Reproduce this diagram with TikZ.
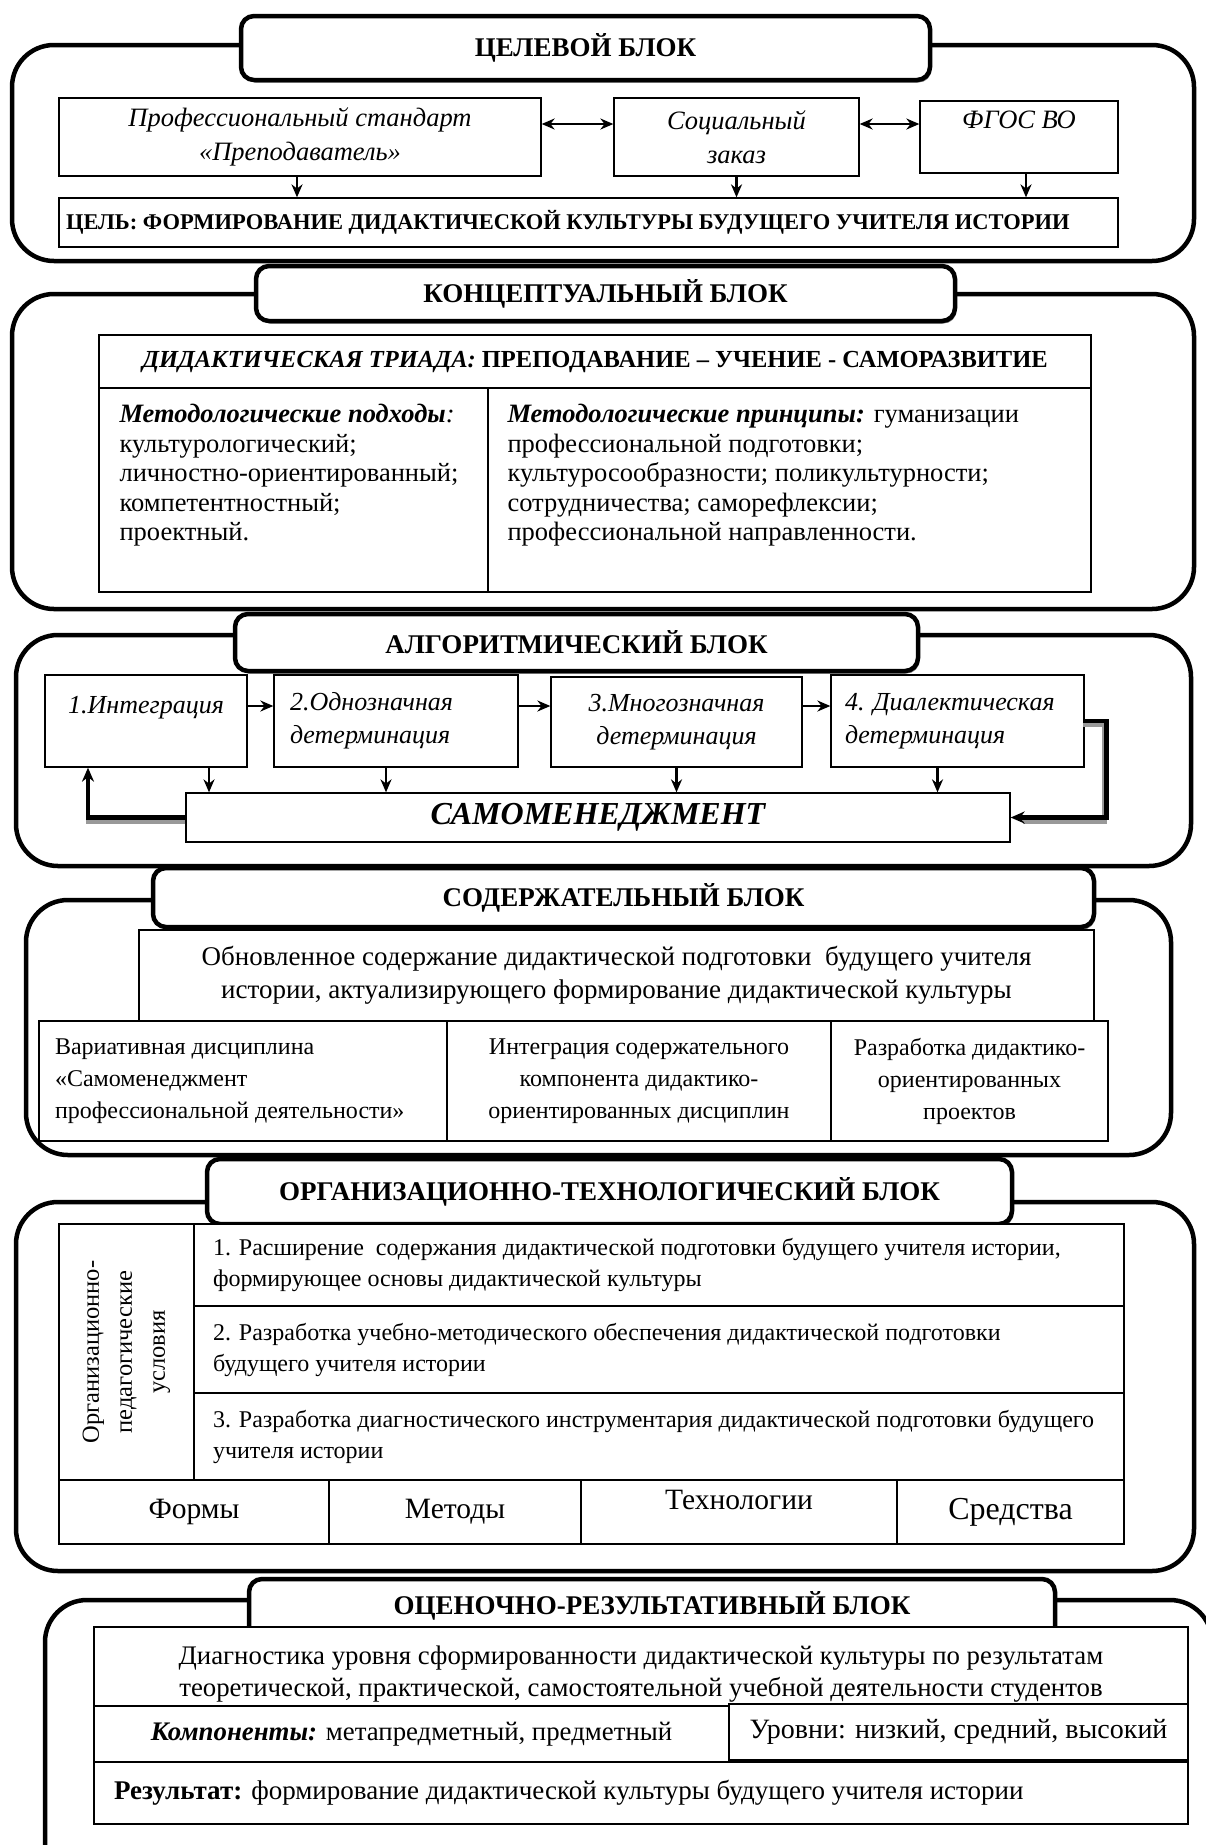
\documentclass[tikz,border=0pt]{standalone}
\usepackage{fontspec}
\setmainfont{Liberation Serif}
\usetikzlibrary{arrows.meta,shadows}
\newcommand{\fsz}[2]{\fontsize{#1}{#2}\selectfont}

\begin{document}
\begin{tikzpicture}[x=1pt,y=-1pt,
					outer/.style={draw, line width=4.5pt, rounded corners=42pt, inner sep=0pt},
					tab/.style={draw, line width=4.5pt, rounded corners=13pt, fill=white, inner sep=0pt,
						drop shadow={shadow xshift=1.5pt, shadow yshift=-2.5pt, fill=black!55, opacity=1},
						font=\bfseries\fsz{27}{31}},
					box/.style={draw, line width=1.3pt, fill=white, inner sep=0pt, align=center, font=\fsz{25}{30}},
					lbox/.style={box, align=left, execute at begin node={\spaceskip=0pt\xspaceskip=0pt\relax}},
					txt/.style={inner sep=0pt, align=left, anchor=north west, font=\fsz{26.5}{29.4}},
					arr/.style={line width=2.6pt, -{Stealth[length=13pt,width=11pt]}},
					darr/.style={line width=2.6pt, {Stealth[length=13pt,width=11pt]}-{Stealth[length=13pt,width=11pt]}},
					back/.style={line width=4.5pt, -{Stealth[length=14pt,width=12pt]}},
					backshadow/.style={line width=4.5pt, black!40}]
    \useasboundingbox (0,0) rectangle (1206,1845);

    % ЦЕЛЕВОЙ БЛОК
    \node [outer, minimum width=1182, minimum height=216] (out1) at (603,153){};
    \node [tab, minimum width=689, minimum height=64] (tab1) at (585.5,48){ЦЕЛЕВОЙ БЛОК};
    \node [box, minimum width=482, minimum height=78, font=\itshape\fsz{26.5}{34}] (prof) at (300,137){Профессиональный стандарт\\«Преподаватель»};
    \node [box, minimum width=245, minimum height=78, font=\itshape\fsz{26.5}{34}] (soc) at (736.5,137){Социальный\\заказ};
    \node [box, minimum width=198, minimum height=72, font=\itshape\fsz{26.5}{34}] (fgos) at (1019,137){ФГОС ВО\\~};
    \node [lbox, minimum width=1059, minimum height=49, text width=1045, font=\bfseries\fsz{22.5}{27}] (goal) at (588.5,222.5){ЦЕЛЬ: ФОРМИРОВАНИЕ ДИДАКТИЧЕСКОЙ КУЛЬТУРЫ БУДУЩЕГО УЧИТЕЛЯ ИСТОРИИ};
    \draw[darr] ([yshift=13]prof.east) -- ([yshift=13]prof.east -| soc.west);
    \draw[darr] ([yshift=13]soc.east) -- ([yshift=13]soc.east -| fgos.west);
    \draw[arr] ([xshift=-3]prof.south) -- ([xshift=-3]prof.south |- goal.north);
    \draw[arr] (soc.south) -- (soc.south |- goal.north);
    \draw[arr] ([xshift=7]fgos.south) -- ([xshift=7]fgos.south |- goal.north);

    % КОНЦЕПТУАЛЬНЫЙ БЛОК
    \node [outer, minimum width=1182, minimum height=315] (out2) at (603,451.5){};
    \node [tab, minimum width=699, minimum height=55] (tab2) at (605.5,293.5){КОНЦЕПТУАЛЬНЫЙ БЛОК};
    \node [box, minimum width=992, minimum height=53, font=\bfseries\fsz{24.5}{30}] (triad) at (595,361.5){\textit{ДИДАКТИЧЕСКАЯ ТРИАДА:} ПРЕПОДАВАНИЕ – УЧЕНИЕ - САМОРАЗВИТИЕ};
    \node [box, minimum width=389, minimum height=204] (appr) at (293.5,490){};
    \node [box, minimum width=603, minimum height=204] (princ) at (789.5,490){};
    \node [txt] (apprtext) at ([xshift=21,yshift=-17]appr.north west){\textbf{\textit{Методологические подходы}}\textit{:}\\
    	культурологический;\\
    	личностно-ориентированный;\\
    	компетентностный;\\
    	проектный.};
    \node [txt] (princtext) at ([xshift=20,yshift=-17]princ.north west){\textbf{\textit{Методологические принципы:}} гуманизации\\
    	профессиональной подготовки;\\
    	культуросообразности; поликультурности;\\
    	сотрудничества; саморефлексии;\\
    	профессиональной направленности.};

    % АЛГОРИТМИЧЕСКИЙ БЛОК
    \node [outer, minimum width=1175, minimum height=231] (out3) at (603.5,750.5){};
    \node [tab, minimum width=683, minimum height=57] (tab3) at (576.5,642.5){АЛГОРИТМИЧЕСКИЙ БЛОК};
    \node [box, minimum width=202, minimum height=92, font=\itshape\fsz{26}{33}] (s1) at (146,721){1.Интеграция\\~};
    \node [lbox, minimum width=244, minimum height=92, text width=212, font=\itshape\fsz{26}{33}] (s2) at (396,721){2.Однозначная\\детерминация};
    \node [box, minimum width=251, minimum height=90, font=\itshape\fsz{26}{33}] (s3) at (676.5,722){3.Многозначная\\детерминация};
    \node [lbox, minimum width=253, minimum height=92, text width=225, font=\itshape\fsz{26}{33}] (s4) at (957.5,721){4. Диалектическая\\детерминация};
    \node [box, minimum width=824, minimum height=49, font=\bfseries\itshape\fsz{32}{36}] (sm) at (598,817.5){САМОМЕНЕДЖМЕНТ};
    \draw[arr] ([yshift=15]s1.east) -- ([yshift=15]s1.east -| s2.west);
    \draw[arr] ([yshift=15]s2.east) -- ([yshift=15]s2.east -| s3.west);
    \draw[arr] ([yshift=16]s3.east) -- ([yshift=16]s3.east -| s4.west);
    \draw[arr] ([xshift=63]s1.south) -- ([xshift=63]s1.south |- sm.north);
    \draw[arr] ([xshift=-10]s2.south) -- ([xshift=-10]s2.south |- sm.north);
    \draw[arr] (s3.south) -- (s3.south |- sm.north);
    \draw[arr] ([xshift=-20]s4.south) -- ([xshift=-20]s4.south |- sm.north);
    \draw[backshadow, transform canvas={yshift=-4pt}] (sm.west) -| ([xshift=-58,yshift=-14]s1.south);
    \draw[back] (sm.west) -| ([xshift=-58]s1.south);
    \draw[backshadow, transform canvas={xshift=-2pt,yshift=-4pt}] (s4.east) -- ++(22,0) |- ([xshift=14]sm.east);
    \draw[back] (s4.east) -- ++(22,0) |- (sm.east);

    % СОДЕРЖАТЕЛЬНЫЙ БЛОК
    \node [outer, minimum width=1145, minimum height=255] (out4) at (598.5,1027.5){};
    \node [tab, minimum width=941, minimum height=59] (tab4) at (623.5,897.5){СОДЕРЖАТЕЛЬНЫЙ БЛОК};
    \node [box, minimum width=955, minimum height=91, font=\fsz{27}{33}] (upd) at (616.5,975.5){Обновленное содержание дидактической подготовки~ будущего учителя\\истории, актуализирующего формирование дидактической культуры};
    \node [lbox, minimum width=408, minimum height=120, text width=376, font=\fsz{24}{32}] (var) at (243,1081){Вариативная дисциплина\\«Самоменеджмент\\профессиональной деятельности»};
    \node [box, minimum width=384, minimum height=120, font=\fsz{24}{32}] (integ) at (639,1081){Интеграция содержательного\\компонента дидактико-\\ориентированных дисциплин};
    \node [box, minimum width=277, minimum height=120, font=\fsz{24}{32}] (proj) at (969.5,1081){Разработка дидактико-\\ориентированных\\проектов};

    % ОРГАНИЗАЦИОННО-ТЕХНОЛОГИЧЕСКИЙ БЛОК
    \node [outer, minimum width=1178, minimum height=369] (out5) at (605,1386.5){};
    \node [tab, minimum width=805, minimum height=65] (tab5) at (609.5,1191.5){ОРГАНИЗАЦИОННО-ТЕХНОЛОГИЧЕСКИЙ БЛОК};
    \node [box, rotate=90, minimum width=256, minimum height=135, font=\fsz{24.5}{33}] (cond) at (126.5,1352){Организационно-\\педагогические\\условия};
    \node [lbox, minimum width=930, minimum height=82, text width=892, font=\fsz{24}{31}] (c1) at (659,1265){1. Расширение~ содержания дидактической подготовки будущего учителя истории,\\формирующее основы дидактической культуры};
    \node [lbox, minimum width=930, minimum height=87, text width=892, font=\fsz{24}{31}] (c2) at (659,1349.5){2. Разработка учебно-методического обеспечения дидактической подготовки\\будущего учителя истории};
    \node [lbox, minimum width=930, minimum height=87, text width=892, font=\fsz{24}{31}] (c3) at (659,1436.5){3. Разработка диагностического инструментария дидактической подготовки будущего\\учителя истории};
    \node [box, minimum width=270, minimum height=64, font=\fsz{29.5}{30}] (forms) at (194,1512){Формы};
    \node [box, minimum width=252, minimum height=64, font=\fsz{29.5}{30}] (meth) at (455,1512){Методы};
    \node [box, minimum width=316, minimum height=64, font=\fsz{29.5}{24}] (tech) at (739,1512){Технологии\\~};
    \node [box, minimum width=227, minimum height=64, font=\fsz{32}{34}] (means) at (1010.5,1512){Средства};

    % ОЦЕНОЧНО-РЕЗУЛЬТАТИВНЫЙ БЛОК
    \node [outer, minimum width=1167, minimum height=290] (out6) at (628.5,1745){};
    \node [tab, minimum width=806, minimum height=65, text depth=18pt] (tab6) at (652,1611.5){ОЦЕНОЧНО-РЕЗУЛЬТАТИВНЫЙ БЛОК};
    \node [box, minimum width=1094, minimum height=79] (diag) at (641,1666.5){};
    \node [align=center, inner sep=0pt, font=\fsz{26.8}{32}] (diagtext) at ([yshift=-8]diag.center){Диагностика уровня сформированности дидактической культуры по результатам\\теоретической, практической, самостоятельной учебной деятельности студентов};
    \node [box, minimum width=635, minimum height=56, font=\fsz{26.8}{30}] (comp) at (411.5,1734){\textbf{\textit{Компоненты:}} метапредметный, предметный};
    \node [box, minimum width=459, minimum height=56, font=\fsz{28}{30}] (lev) at (958.5,1732){Уровни: низкий, средний, высокий};
    \node [lbox, minimum width=1094, minimum height=62, text width=1054, font=\fsz{27}{30}] (res) at (641,1793){\textbf{Результат:} формирование дидактической культуры будущего учителя истории};
\end{tikzpicture}
\end{document}
